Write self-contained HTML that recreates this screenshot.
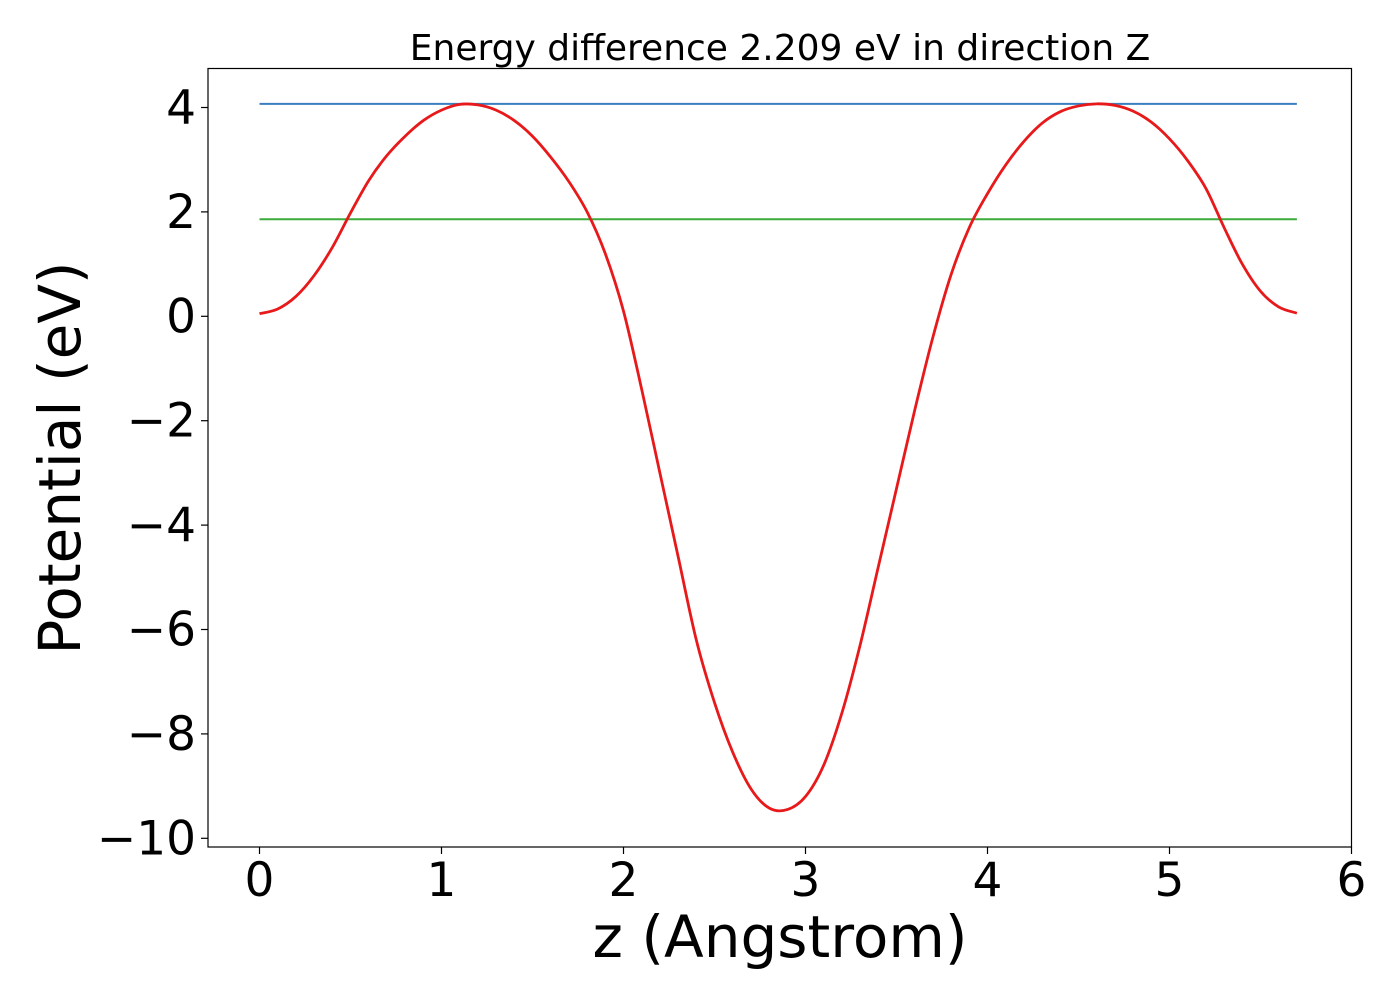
<!DOCTYPE html>
<html><head><meta charset="utf-8"><style>
body{margin:0;background:#fff;}
svg text{font-family:"DejaVu Sans","Liberation Sans",sans-serif;fill:#000;}
</style></head><body>
<svg id="chart" width="1400" height="1000" xmlns="http://www.w3.org/2000/svg">
<rect width="1400" height="1000" fill="#fff"/>
<text x="780" y="60" font-size="36" text-anchor="middle">Energy difference 2.209 eV in direction Z</text>
<g id="plot"></g>
<text x="780" y="957" font-size="58" text-anchor="middle">z (Angstrom)</text>
<text transform="translate(80,458) rotate(-90)" font-size="58" text-anchor="middle">Potential (eV)</text>
<rect x="208" y="68.5" width="1143.5" height="778.5" fill="none" stroke="#000" stroke-width="1.2"/>
</svg>
<script>
const zValues=[0,0.1,0.2,0.3,0.4,0.5,0.6,0.7,0.8,0.9,1.0,1.1,1.2,1.3,1.4,1.5,1.6,1.7,1.8,1.9,2.0,2.1,2.2,2.3,2.4,2.5,2.6,2.7,2.8,2.9,3.0,3.1,3.2,3.3,3.4,3.5,3.6,3.7,3.8,3.9,4.0,4.1,4.2,4.3,4.4,4.5,4.6,4.7,4.8,4.9,5.0,5.1,5.2,5.3,5.4,5.5,5.6,5.7];
const potential=[0.05,0.14,0.38,0.78,1.32,1.98,2.6,3.08,3.45,3.75,3.95,4.06,4.05,3.95,3.75,3.45,3.05,2.58,2.0,1.2,0.1,-1.4,-3.0,-4.6,-6.2,-7.4,-8.35,-9.05,-9.42,-9.45,-9.2,-8.6,-7.6,-6.3,-4.8,-3.3,-1.8,-0.4,0.8,1.7,2.35,2.9,3.35,3.7,3.92,4.03,4.07,4.04,3.93,3.72,3.4,2.98,2.45,1.7,1.0,0.48,0.18,0.06];
const refLevels=[4.07,1.86];
const refColors=["#3a7fc1","#3cab3c"];
const xTicks=[0,1,2,3,4,5,6];
const yTicks=[4,2,0,-2,-4,-6,-8,-10];
const X=v=>259.5+v*182;
const Y=v=>316.3-v*52.2;
const NS="http://www.w3.org/2000/svg";
const g=document.getElementById('plot');
function mk(t,a){const e=document.createElementNS(NS,t);for(const k in a)e.setAttribute(k,a[k]);g.appendChild(e);return e;}
xTicks.forEach(t=>{
 const l=mk('line',{x1:X(t),x2:X(t),y1:847,y2:854,stroke:'#000','stroke-width':1.2});
 
 
 const s=mk('text',{x:X(t),y:896,'font-size':47,'text-anchor':'middle'});
 s.textContent=t;
 
 
});
yTicks.forEach(t=>{
 const l=mk('line',{x1:201,x2:208,y1:Y(t),y2:Y(t),stroke:'#000','stroke-width':1.2});
 
 
 const s=mk('text',{x:196,y:Y(t)+16,'font-size':47,'text-anchor':'end'});
 s.textContent=t<0?'\u2212'+Math.abs(t):t;
 
 
});
refLevels.forEach((v,i)=>{
 const l=mk('line',{x1:X(zValues[0]),x2:X(zValues[zValues.length-1]),y1:Y(v),y2:Y(v),stroke:refColors[i],'stroke-width':2});
 
 
});
const pts=zValues.map((z,i)=>[X(z),Y(potential[i])]);
let d='M'+pts[0][0]+','+pts[0][1];
for(let i=0;i<pts.length-1;i++){
 const p0=pts[Math.max(0,i-1)],p1=pts[i],p2=pts[i+1],p3=pts[Math.min(pts.length-1,i+2)];
 const c1=[p1[0]+(p2[0]-p0[0])/6,p1[1]+(p2[1]-p0[1])/6];
 const c2=[p2[0]-(p3[0]-p1[0])/6,p2[1]-(p3[1]-p1[1])/6];
 d+=' C'+c1[0]+','+c1[1]+' '+c2[0]+','+c2[1]+' '+p2[0]+','+p2[1];
}
const p=mk('path',{d:d,fill:'none',stroke:'#e8191a','stroke-width':2.8,'stroke-linejoin':'round'});


</script>
</body></html>
